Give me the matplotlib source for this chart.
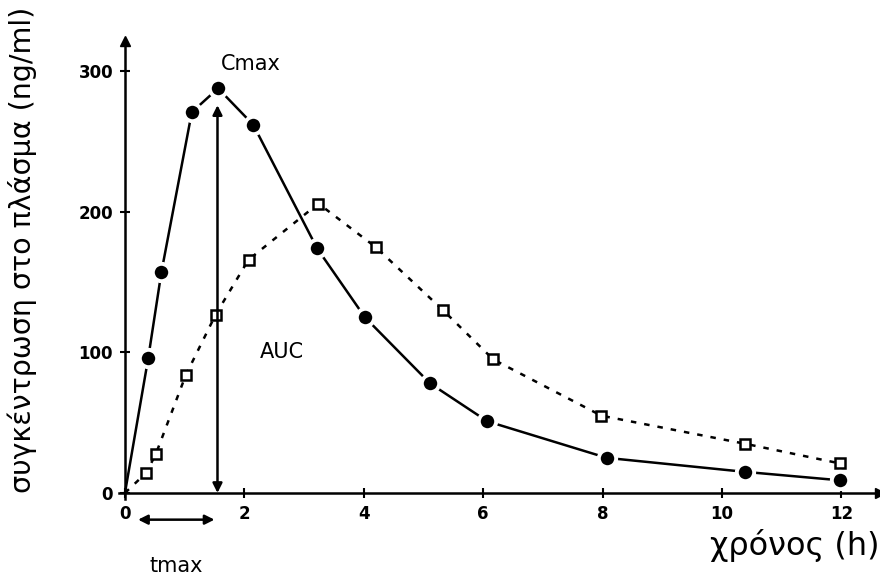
import matplotlib
matplotlib.use("Agg")
import matplotlib.pyplot as plt

# Plasma concentration vs time (two formulations)
t_filled = [0, 0.39, 0.61, 1.12, 1.56, 2.15, 3.22, 4.02, 5.11, 6.07, 8.07, 10.39, 11.98]
c_filled = [0, 96, 157, 271, 288, 262, 174, 125, 78, 51, 25, 15, 9]

t_open = [0, 0.36, 0.52, 1.02, 1.52, 2.07, 3.24, 4.20, 5.33, 6.17, 7.98, 10.39, 11.98]
c_open = [0, 14.5, 28, 84, 127, 166, 206, 175, 130, 95, 55, 35, 21]

x_ticks = [0, 2, 4, 6, 8, 10, 12]
y_ticks = [0, 100, 200, 300]

t_max = 1.55
c_max = 276

plt.rcParams['font.family'] = ['DejaVu Sans']

fig = plt.figure(figsize=(8.8, 5.77), dpi=100)
ax = fig.add_axes([0.1352, 0.1359, 0.865, 0.7938])
ax.set_xlim(-0.1, 12.65)
ax.set_ylim(-4, 322)

# axes through the origin with arrows
for s in ['top', 'right']:
    ax.spines[s].set_visible(False)
ax.spines['left'].set_position(('data', 0))
ax.spines['bottom'].set_position(('data', 0))
for s in ['left', 'bottom']:
    ax.spines[s].set_linewidth(1.8)
ax.plot(1, 0, ">k", ms=7, transform=ax.get_yaxis_transform(), clip_on=False)
ax.plot(0, 1, "^k", ms=7, transform=ax.get_xaxis_transform(), clip_on=False)

ax.set_xticks(x_ticks)
ax.set_yticks(y_ticks)
ax.set_xticklabels([str(v) for v in x_ticks], fontsize=12, fontweight='bold')
ax.set_yticklabels([str(v) for v in y_ticks], fontsize=12, fontweight='bold')
ax.tick_params(direction='inout', length=7, width=1.5, pad=5)

# curves
ax.plot(t_open, c_open, color='black', lw=1.8, linestyle=(0, (2.2, 3.2)),
        marker='s', ms=7, mfc='white', mec='black', mew=1.8,
        markevery=list(range(1, len(t_open))), zorder=3)
ax.plot(t_filled, c_filled, color='black', lw=1.8,
        marker='o', ms=12.5, mfc='black', mec='white', mew=2.8,
        markevery=list(range(1, len(t_filled))), zorder=4)

# Cmax vertical double arrow
ax.annotate('', xy=(t_max, c_max), xytext=(t_max, 0),
            arrowprops=dict(arrowstyle='<|-|>', color='black', lw=1.8,
                            mutation_scale=14, shrinkA=0, shrinkB=0))
ax.text(2.1, 305, 'Cmax', fontsize=15, ha='center', va='center')
ax.text(2.63, 100, 'AUC', fontsize=15, ha='center', va='center')

# tmax horizontal double arrow below axis
ax.annotate('', xy=(1.5, -19), xytext=(0.22, -19), annotation_clip=False,
            arrowprops=dict(arrowstyle='<|-|>', color='black', lw=1.8,
                            mutation_scale=14, shrinkA=0, shrinkB=0))
fig.text(176 / 880, 1 - 566 / 577, 'tmax', fontsize=15, ha='center', va='center')

# axis titles
fig.text(22 / 880, 1 - 250 / 577, 'συγκέντρωση στο πλάσμα (ng/ml)',
         fontsize=20.5, rotation=90, ha='center', va='center')
fig.text(879 / 880, 1 - 545 / 577, 'χρόνος (h)', fontsize=23,
         ha='right', va='center')

fig.savefig('out.png', dpi=100)
